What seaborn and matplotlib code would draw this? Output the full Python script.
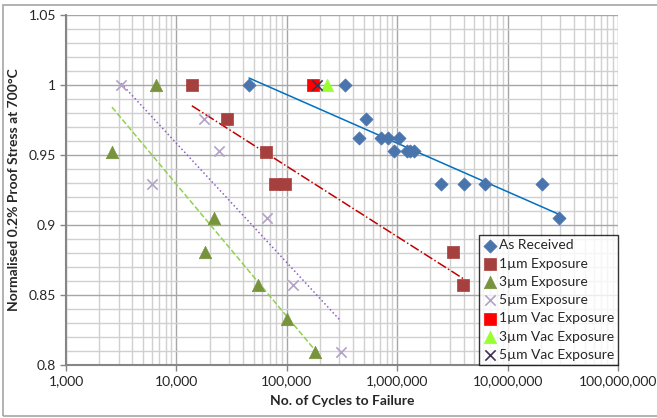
import numpy as np
import matplotlib
matplotlib.use('Agg')
import matplotlib.pyplot as plt
import matplotlib.ticker as mticker
from matplotlib.patches import Rectangle
import seaborn as sns

# Datos
as_rec_n = [45500, 336000, 521000, 451000, 713000, 826000, 1038000, 936000,
            1230000, 1310000, 1420000, 2490000, 4030000, 6240000, 20500000, 29300000]
as_rec_s = [1.0, 1.0, 0.976, 0.962, 0.962, 0.962, 0.962, 0.953,
            0.953, 0.953, 0.953, 0.929, 0.929, 0.929, 0.929, 0.905]

exp1_n = [13800, 28700, 64800, 78200, 96400, 3200000, 3950000]
exp1_s = [1.0, 0.976, 0.952, 0.929, 0.929, 0.881, 0.857]

exp3_n = [2610, 6530, 21900, 18200, 54800, 100000, 180000]
exp3_s = [0.952, 1.0, 0.905, 0.881, 0.857, 0.833, 0.809]

exp5_n = [3150, 17800, 24300, 6010, 66000, 113800, 310000]
exp5_s = [1.0, 0.976, 0.953, 0.929, 0.905, 0.857, 0.809]

vac1_n, vac1_s = [172600], [1.0]
vac3_n, vac3_s = [231000], [1.0]
vac5_n, vac5_s = [187000], [1.0]

x_ticks = [1e3, 1e4, 1e5, 1e6, 1e7, 1e8]
y_ticks = [0.8, 0.85, 0.9, 0.95, 1.0, 1.05]

sns.set_theme(style='white')
plt.rcParams['font.family'] = ['Lato', 'DejaVu Sans']

fig = plt.figure(figsize=(6.57, 4.18), dpi=100)
ax = fig.add_axes([66/657, 1 - 365/418, (618 - 66)/657, (365 - 15)/418])

# series: (n, s, label, marker, color, size, trend style)
series = [
    (as_rec_n, as_rec_s, 'As Received', 'D', '#4A74AC', 45, ('#0070C0', '-')),
    (exp1_n, exp1_s, '1µm Exposure', 's', '#A5403E', 80, ('#C00000', '-.')),
    (exp3_n, exp3_s, '3µm Exposure', '^', '#77933C', 80, ('#92D050', '--')),
    (exp5_n, exp5_s, '5µm Exposure', 'x', '#B3A2C7', 55, ('#8E5EC2', ':')),
    (vac1_n, vac1_s, '1µm Vac Exposure', 's', '#FF0000', 80, None),
    (vac3_n, vac3_s, '3µm Vac Exposure', '^', '#99FF33', 80, None),
    (vac5_n, vac5_s, '5µm Vac Exposure', 'x', '#403152', 55, None),
]

for n, s, lab, mk, col, size, trend in series:
    if mk == 'x':
        sns.scatterplot(x=n, y=s, ax=ax, marker=mk, color=col, s=size,
                        linewidth=1.2, label=lab, zorder=3)
    else:
        sns.scatterplot(x=n, y=s, ax=ax, marker=mk, color=col, s=size,
                        edgecolor=col, linewidth=0.5, label=lab, zorder=3)

# lineas de tendencia logaritmicas
for n, s, lab, mk, col, size, trend in series:
    if trend is None:
        continue
    lx = np.log10(n)
    a, b = np.polyfit(lx, s, 1)
    xs = np.array([min(n), max(n)])
    ax.plot(xs, a * np.log10(xs) + b, color=trend[0], ls=trend[1], lw=1.1, zorder=2)

ax.set_xscale('log')
ax.set_xlim(1e3, 1e8)
ax.set_ylim(0.8, 1.05)
ax.set_xticks(x_ticks)
ax.xaxis.set_major_formatter(mticker.FuncFormatter(lambda v, p: f'{int(round(v)):,}'))
ax.xaxis.set_minor_locator(mticker.LogLocator(base=10, subs=np.arange(2, 10)))
ax.xaxis.set_minor_formatter(mticker.NullFormatter())
ax.set_yticks(y_ticks)
ax.yaxis.set_major_formatter(mticker.FuncFormatter(lambda v, p: f'{v:g}'))
ax.yaxis.set_minor_locator(mticker.MultipleLocator(0.01))

ax.grid(which='major', color='#A6A6A6', lw=1.0, zorder=0)
ax.grid(which='minor', color='#D0D0D0', lw=1.0, zorder=0)
ax.set_axisbelow(True)

for sp in ['top', 'right']:
    ax.spines[sp].set_visible(False)
for sp in ['left', 'bottom']:
    ax.spines[sp].set_color('#868686')
    ax.spines[sp].set_linewidth(1.5)

ax.tick_params(which='major', direction='out', length=4, width=1, color='#868686',
               labelsize=10, bottom=True, left=True, pad=3)
ax.tick_params(which='minor', length=0)

ax.set_xlabel('No. of Cycles to Failure', fontsize=10, fontweight='bold', labelpad=6)
ax.set_ylabel('Normalised 0.2% Proof Stress at 700°C', fontsize=10, fontweight='bold', labelpad=6)

leg = ax.legend(loc='lower right', borderaxespad=0, frameon=True, fancybox=False,
                fontsize=10, handletextpad=0.1, handlelength=1.0, labelspacing=0.45,
                borderpad=0.3)
leg.get_frame().set_edgecolor('black')
leg.get_frame().set_linewidth(1.0)

fig.patches.append(Rectangle((0.005, 0.005), 1.2, 0.982, transform=fig.transFigure,
                             fill=False, ec='#A6A6A6', lw=1.2))

fig.savefig('out.png', dpi=100)
